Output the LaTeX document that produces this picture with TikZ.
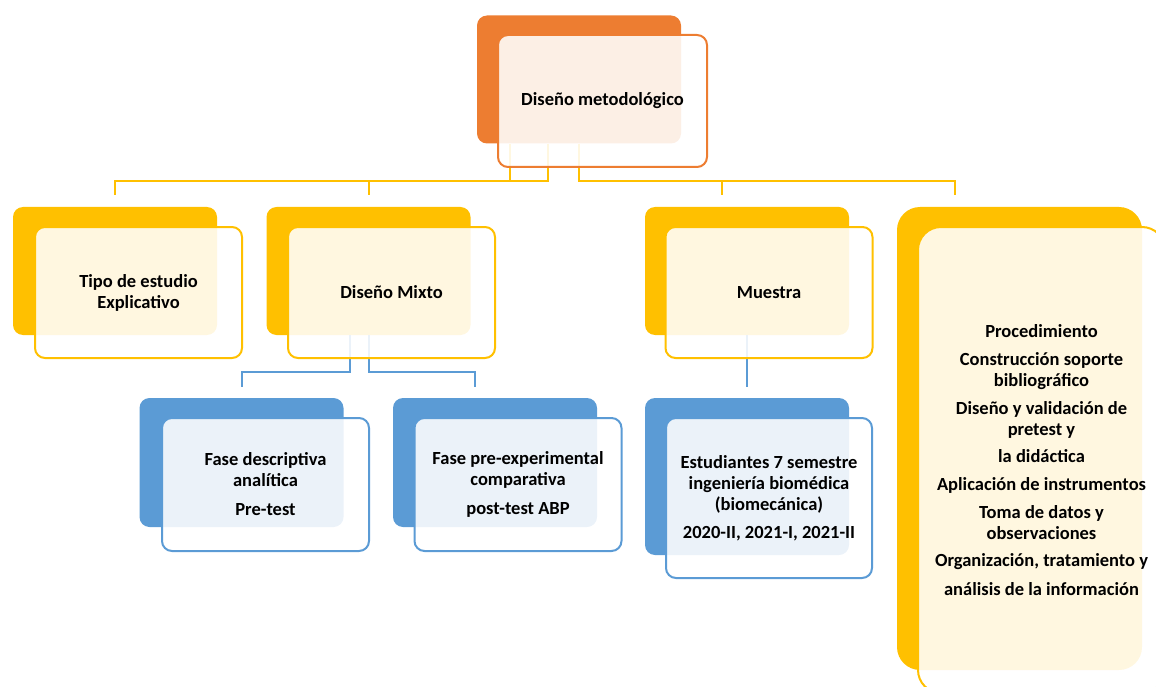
\documentclass[tikz,border=0pt]{standalone}
\usepackage{fontspec}
\setmainfont{Carlito}
\definecolor{smOrange}{HTML}{ED7D31}
\definecolor{smYellow}{HTML}{FFC000}
\definecolor{smBlue}{HTML}{5B9BD5}

\begin{document}
\begin{tikzpicture}[
        x=1pt, y=-1pt,
        font=\bfseries\fontsize{18.5}{21}\selectfont,
        back/.style={rounded corners=10pt, minimum width=204pt,
                     minimum height=128pt, inner sep=0pt},
        front/.style={rounded corners=10pt, line width=2pt, fill=white,
                      fill opacity=0.88, text opacity=1, minimum width=207pt,
                      minimum height=131pt, align=center, inner sep=2pt},
        big/.style={rounded corners=23pt},
        og/.style={fill=smOrange},
        yl/.style={fill=smYellow},
        bl/.style={fill=smBlue},
        ylink/.style={draw=smYellow, line width=2pt},
        blink/.style={draw=smBlue, line width=2pt},
    ]

    \useasboundingbox (0,0) rectangle (1156,687);

    \node[back, og] (dm-b) at (579,79.5) {};
    \node[back, yl] (tipo-b) at (115,271) {};
    \node[back, yl] (mix-b) at (368.5,271) {};
    \node[back, yl] (mue-b) at (747,271) {};
    \node[back, yl, big, minimum width=245pt, minimum height=463pt]
        (proc-b) at (1019.5,438.5) {};
    \node[back, bl, minimum height=129pt] (fd-b) at (241.5,462.5) {};
    \node[back, bl, minimum height=129pt] (fp-b) at (495,462.5) {};
    \node[back, bl, minimum height=157pt] (est-b) at (747,476.5) {};

    \draw[ylink] ([xshift=-69pt]dm-b.south) -- ++(0,37) -| ([yshift=12pt]tipo-b.north);
    \draw[ylink] ([xshift=-31pt]dm-b.south) -- ++(0,37) -| ([yshift=12pt]mix-b.north);
    \draw[ylink] (dm-b.south) -- ++(0,37) -| ([xshift=-25pt,yshift=12pt]mue-b.north);
    \draw[ylink] (dm-b.south) -- ++(0,37) -| ([xshift=-64.5pt,yshift=12pt]proc-b.north);

    \draw[blink] ([xshift=-19pt]mix-b.south) -- ++(0,37) -| ([yshift=11pt]fd-b.north);
    \draw[blink] (mix-b.south) -- ++(0,37) -| ([xshift=-20pt,yshift=11pt]fp-b.north);
    \draw[blink] (mue-b.south) -- ([yshift=11pt]est-b.north);

    \node[front, draw=smOrange, minimum width=209pt, minimum height=132pt]
        (dm) at (602.5,101) {Diseño metodológico};
    \node[front, draw=smYellow] (tipo) at (138.5,292.5)
        {Tipo de estudio\\Explicativo};
    \node[front, draw=smYellow] (mix) at (391.5,292.5) {Diseño Mixto};
    \node[front, draw=smYellow] (mue) at (769,292.5) {Muestra};
    \node[front, big, draw=smYellow, minimum width=247pt, minimum height=466pt]
        (proc) at (1041.5,460) {Procedimiento\\[7pt]
        Construcción soporte\\bibliográfico\\[7pt]
        Diseño y validación de\\pretest y\\[6pt]
        la didáctica\\[7pt]
        Aplicación de instrumentos\\[7pt]
        Toma de datos y\\observaciones\\[6pt]
        Organización, tratamiento y\\[8pt]
        análisis de la información};

    \node[front, draw=smBlue, minimum height=133pt] (fd) at (265.5,484.5)
        {Fase descriptiva\\analítica\\[8pt]Pre-test};
    \node[front, draw=smBlue, minimum height=133pt] (fp) at (518,484.5)
        {Fase pre-experimental\\comparativa\\[8pt]post-test ABP};
    \node[front, draw=smBlue, minimum width=206pt, minimum height=160pt]
        (est) at (769,498) {Estudiantes 7 semestre\\ingeniería biomédica\\
        (biomecánica)\\[7pt]2020-II, 2021-I, 2021-II};

\end{tikzpicture}
\end{document}
